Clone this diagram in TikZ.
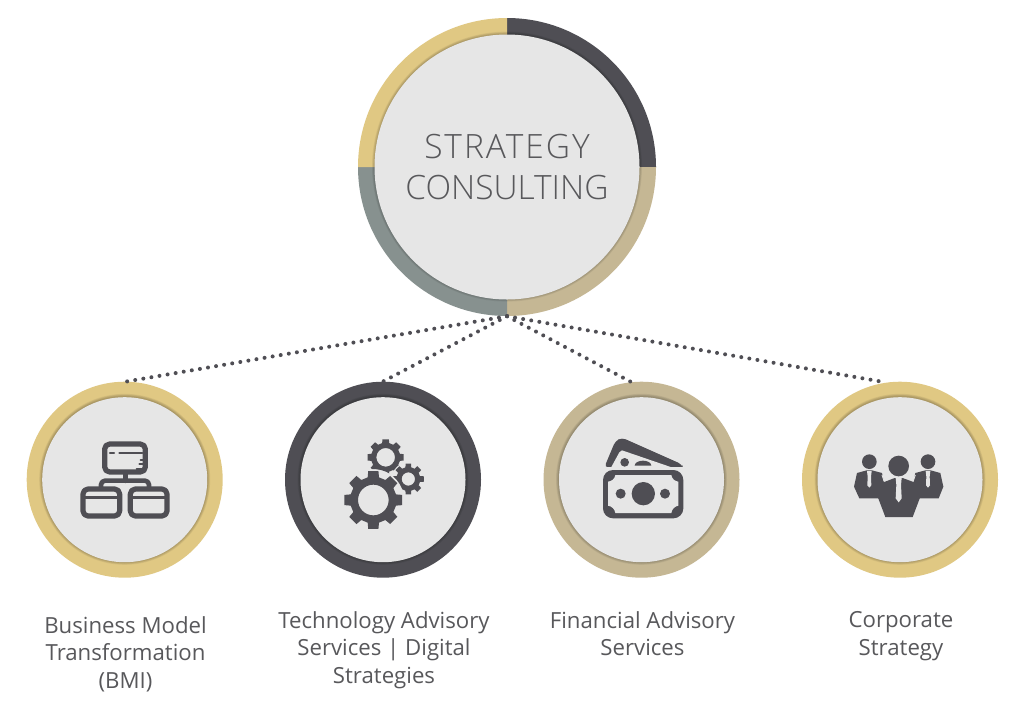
\documentclass[tikz,border=0pt]{standalone}
\usepackage{fontspec}
\setmainfont{Open Sans}
\newfontfamily\lightfont{Open Sans Light}
\newfontfamily\lightspaced[LetterSpace=6]{Open Sans Light}
\definecolor{gold}{HTML}{E0C883}
\definecolor{ink}{HTML}{4F4E54}
\definecolor{tan}{HTML}{C5B794}
\definecolor{slate}{HTML}{87918F}
\definecolor{disc}{HTML}{E6E6E6}
\definecolor{txt}{HTML}{58585B}
\tikzset{
 ringnode/.style={circle,inner sep=0pt,minimum size=196pt,fill=#1},
 discnode/.style={circle,inner sep=0pt,minimum size=165pt,fill=disc},
 dotline/.style={draw=ink,line width=4pt,line cap=round,dash pattern=on 0pt off 8.2pt},
 caption/.style={align=center,text=txt,font=\fontsize{22.2}{27.4}\selectfont,anchor=north},
 inkline/.style={draw=ink,line join=round,line cap=round},
}
\newcommand{\softedge}[2]{%
 \foreach \k in {5,4,3,2,1}{\fill[black,opacity=.05] ([yshift=.4pt]#1) circle ({#2+\k*.6pt});}%
}
\newcommand{\gearpath}[5]{% cx cy outer root hole
 \fill[ink,even odd rule,shift={(#1,#2)}] (-14:#4)
 \foreach \i in {0,45,...,315}{ -- ({\i-14}:#4) -- ({\i-10}:#3) -- ({\i+10}:#3) -- ({\i+14}:#4) -- ({\i+31}:#4)} -- cycle (0,0) circle (#5);}
\begin{document}
\begin{tikzpicture}[x=1pt,y=-1pt]
\useasboundingbox (0,0) rectangle (1024,713);
\fill[white] (0,0) rectangle (1024,713);
% main ring
\coordinate (mc) at (507,167);
\fill[ink] (mc) -- (507,18) arc[start angle=90,end angle=0,radius=149pt] -- cycle;
\fill[tan] (mc) -- (656,167) arc[start angle=0,end angle=-90,radius=149pt] -- cycle;
\fill[slate] (mc) -- (507,316) arc[start angle=-90,end angle=-180,radius=149pt] -- cycle;
\fill[gold] (mc) -- (358,167) arc[start angle=180,end angle=90,radius=149pt] -- cycle;
\softedge{mc}{132pt}
\node[circle,inner sep=0pt,minimum size=298pt] (main) at (mc) {};
\node[circle,inner sep=0pt,minimum size=265pt,fill=disc,align=center,text=txt,font=\lightfont\fontsize{33.5}{41}\selectfont] (maintext) at (507,167) {{\lightspaced STRATEGY}\\CONSULTING};
% small rings
\node[ringnode=gold] (c1) at (124.7,479.7) {};
\node[ringnode=ink] (c2) at (383,479.7) {};
\node[ringnode=tan] (c3) at (641.5,479.7) {};
\node[ringnode=gold] (c4) at (900,479.7) {};
\softedge{c1.center}{82.5pt}
\softedge{c2.center}{82.5pt}
\softedge{c3.center}{82.5pt}
\softedge{c4.center}{82.5pt}
\node[discnode] (d1) at (c1) {};
\node[discnode] (d2) at (c2) {};
\node[discnode] (d3) at (c3) {};
\node[discnode] (d4) at (c4) {};
% connectors
\draw[dotline] (main.south) -- (c1.89);
\draw[dotline] (main.south) -- (c2.90);
\draw[dotline] (main.south) -- (c3.96);
\draw[dotline] (main.south) -- (c4.98);
% icon 1: network of screens
\begin{scope}[shift={(20,375)},scale=1/3]
\draw[inkline,line width=5.2pt,rounded corners=5pt] (254,207) rectangle (376,291);
\draw[inkline,line width=2.2pt] (270,233) -- (282,233) (298,233) -- (367,233);
\draw[inkline,line width=2pt] (350,281) -- (370,281) (358,268) -- (368,268) (362,255) -- (368,255);
\draw[inkline,line width=5pt] (315,298) -- (315,317);
\draw[inkline,line width=4.6pt,rounded corners=4pt] (243,335) -- (243,317) -- (387,317) -- (387,335);
\draw[inkline,line width=5.2pt,rounded corners=5pt] (189,342) rectangle (299,423);
\draw[inkline,line width=5.2pt,rounded corners=5pt] (331,342) rectangle (441,423);
\draw[inkline,line width=3pt] (189,366) -- (299,366) (331,366) -- (441,366);
\end{scope}
% icon 2: gears
\begin{scope}[shift={(280,375)},scale=1/3]
\gearpath{317}{247}{55}{44}{28}
\fill[disc] (385,312) circle (50);
\fill[disc] (280,375) circle (92);
\gearpath{385}{312}{47}{36}{20}
\fill[disc] (280,375) circle (92);
\gearpath{280}{375}{88}{70}{46}
\end{scope}
% icon 3: banknotes
\begin{scope}[shift={(538,375)},scale=1/3]
\fill[ink,rounded corners=4pt] (199,277) -- (232,198) -- (252,188) -- (432,268) -- (436,282) -- cycle;
\fill[disc] (220,276) -- (244,232) -- (252,226) -- (398,276) -- cycle;
\fill[ink] (260,262) circle (13);
\fill[ink] (290,272) arc[start angle=180,end angle=360,x radius=25,y radius=15] -- cycle;
\fill[disc] (190,276) rectangle (440,284);
\fill[ink,rounded corners=10pt] (195,285) rectangle (436,430);
\fill[disc] (232,300) -- (400,300) .. controls (402,312) and (410,318) .. (421,320) -- (421,392) .. controls (410,394) and (402,402) .. (400,414) -- (232,414) .. controls (230,402) and (222,394) .. (210,392) -- (210,320) .. controls (222,318) and (230,312) .. (232,300) -- cycle;
\fill[ink] (316,356) circle (35);
\fill[ink] (248,356) circle (15);
\fill[ink] (381,356) circle (15);
\end{scope}
% icon 4: people
\begin{scope}[shift={(796,375)},scale=1/3]
\fill[ink] (220,260) circle (22);
\fill[ink] (396,260) circle (22);
\fill[ink] (183,294) -- (212,286) -- (228,286) -- (258,294) -- (264,322) -- (262,370) -- (190,370) -- (174,335) -- cycle;
\fill[ink] (433,294) -- (404,286) -- (388,286) -- (358,294) -- (352,322) -- (354,370) -- (428,370) -- (442,335) -- cycle;
\draw[disc,line width=.9pt] (258,300) -- (264,318) -- (296,303) -- (320,303) -- (352,318) -- (358,300);
\fill[ink] (308,273) circle (31);
\fill[ink] (262,322) -- (296,309) -- (320,309) -- (355,322) -- (375,360) -- (350,426) -- (268,426) -- (243,360) -- cycle;
\fill[disc] (299,309) -- (317,309) -- (315,330) -- (317,370) -- (308,382) -- (299,370) -- (301,330) -- cycle;
\fill[disc] (213,288) -- (227,288) -- (225,305) -- (226,331) -- (220,338) -- (214,331) -- (215,305) -- cycle;
\fill[disc] (389,288) -- (403,288) -- (401,305) -- (402,331) -- (396,338) -- (390,331) -- (391,305) -- cycle;
\end{scope}
% captions
\node[caption] (t1) at (125.5,613) {Business Model\\Transformation\\(BMI)};
\node[caption] (t2) at (384,608) {Technology Advisory\\Services | Digital\\Strategies};
\node[caption] (t3) at (642.5,608) {Financial Advisory\\Services};
\node[caption] (t4) at (901,608) {Corporate\\Strategy};
\end{tikzpicture}
\end{document}
